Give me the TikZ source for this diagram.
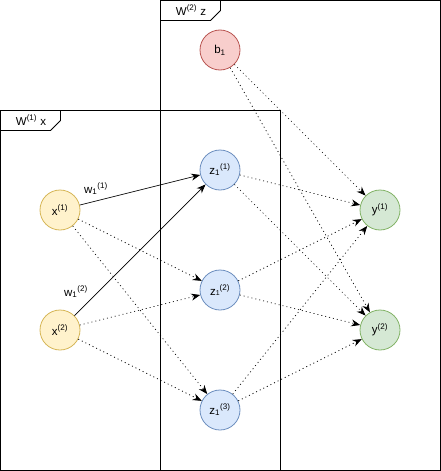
\documentclass[tikz,border=0pt]{standalone}
\usepackage{fontspec}
\setmainfont{Liberation Sans}
\usepackage{tikz}
\usetikzlibrary{arrows.meta,positioning,calc}

\definecolor{xfill}{HTML}{FFF2CC}
\definecolor{xline}{HTML}{D6B656}
\definecolor{zfill}{HTML}{DAE8FC}
\definecolor{zline}{HTML}{6C8EBF}
\definecolor{yfill}{HTML}{D5E8D4}
\definecolor{yline}{HTML}{82B366}
\definecolor{bfill}{HTML}{F8CECC}
\definecolor{bline}{HTML}{B85450}

\begin{document}
\begin{tikzpicture}[x=1pt,y=-1pt,
  font=\fontsize{11.5}{13}\selectfont,
  neuron/.style={circle,minimum size=40pt,inner sep=0pt,line width=0.8pt},
  xin/.style={neuron,draw=xline,fill=xfill},
  zhid/.style={neuron,draw=zline,fill=zfill},
  yout/.style={neuron,draw=yline,fill=yfill},
  bias/.style={neuron,draw=bline,fill=bfill},
  wire/.style={-{Stealth[length=9pt,width=7pt]},line width=0.7pt},
  dotwire/.style={wire,dash pattern=on 1pt off 3pt},
  frame/.style={line width=0.8pt}]
\useasboundingbox (0,0) rectangle (441,471);

% frames
\draw[frame] (160.5,0.5) rectangle (440.5,470.5);
\draw[frame] (160.5,0.5) -- (220.5,0.5) -- (220.5,10.5) -- (210.5,20.5) -- (160.5,20.5);
\node at (191,10) {W\textsuperscript{(2)} z};
\draw[frame,fill=white] (0.5,110.5) rectangle (280.5,470.5);
\draw[frame] (0.5,110.5) -- (60.5,110.5) -- (60.5,120.5) -- (50.5,130.5) -- (0.5,130.5);
\node at (31,120) {W\textsuperscript{(1)} x};
\draw[frame] (160.5,110.5) -- (160.5,470.5);

% neurons
\node[bias] (b1) at (220,50) {b\textsubscript{1}};
\node[xin] (x1) at (60,210) {x\textsuperscript{(1)}};
\node[xin] (x2) at (60,330) {x\textsuperscript{(2)}};
\node[zhid] (z1) at (220,170) {z\textsubscript{1}\textsuperscript{(1)}};
\node[zhid] (z2) at (220,290) {z{\scriptsize 1}\textsuperscript{(2)}};
\node[zhid] (z3) at (220,410) {z\textsubscript{1}\textsuperscript{(3)}};
\node[yout] (y1) at (380,210) {y\textsuperscript{(1)}};
\node[yout] (y2) at (380,330) {y\textsuperscript{(2)}};

% weights
\draw[wire] (x1) -- (z1);
\draw[wire] (x2) -- (z1);
\node (w11) at (96,189) {w\textsubscript{1}\textsuperscript{(1)}};
\node (w12) at (76,292) {w\textsubscript{1}\textsuperscript{(2)}};

% remaining connections
\draw[dotwire] (x1) -- (z2);
\draw[dotwire] (x1) -- (z3);
\draw[dotwire] (x2) -- (z2);
\draw[dotwire] (x2) -- (z3);
\foreach \z in {z1,z2,z3}{
  \draw[dotwire] (\z) -- (y1);
  \draw[dotwire] (\z) -- (y2);
}
\draw[dotwire] (b1) -- (y1);
\draw[dotwire] (b1) -- (y2);
\end{tikzpicture}
\end{document}
